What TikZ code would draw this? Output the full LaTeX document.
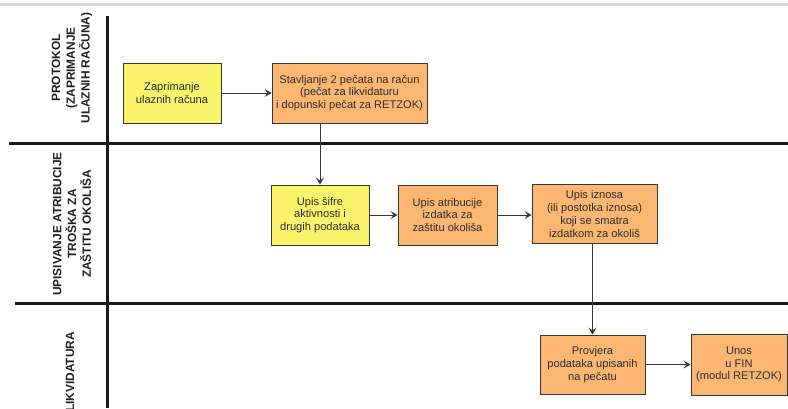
\documentclass[tikz,border=0pt]{standalone}
\usepackage{fontspec}
\setmainfont{Liberation Sans}
\usetikzlibrary{arrows.meta}
\definecolor{boxyellow}{RGB}{250,243,108}
\definecolor{boxorange}{RGB}{251,182,114}
\definecolor{edgegrey}{RGB}{55,55,55}
\definecolor{topgrey}{RGB}{216,216,216}
\definecolor{textgrey}{RGB}{45,45,45}
\begin{document}
\begin{tikzpicture}[x=1pt,y=-1pt,
  lane/.style={line width=2.4pt, black!90},
  procbox/.style={draw=edgegrey, line width=0.9pt, align=center, inner sep=1pt,
    font=\fontsize{11.1}{12.8}\selectfont, text=textgrey},
  yellowbox/.style={procbox, fill=boxyellow},
  orangebox/.style={procbox, fill=boxorange},
  flow/.style={draw=edgegrey, line width=0.9pt, -{Stealth[length=7pt,width=8pt,inset=3pt]}},
  lanelabel/.style={rotate=90, align=center, inner sep=0pt,
    font=\fontsize{11.9}{14.8}\selectfont\bfseries, text=black!88}
]
\useasboundingbox (0,0) rectangle (788,408);
\fill[white] (0,0) rectangle (788,408);
% top grey strip
\draw[topgrey, line width=3pt] (0,4) -- (788,4);
% lane lines
\draw[lane] (107.5,16) -- (107.5,408);
\draw[lane] (9,143.5) -- (788,143.5);
\draw[lane] (15,303.5) -- (788,303.5);
% lane labels
\node[lanelabel] (l1) at (72,68) {PROTOKOL\\(ZAPRIMANJE\\ULAZNIH RAČUNA)};
\node[lanelabel] (l2) at (72,224) {UPISIVANJE ATRIBUCIJE\\TROŠKA ZA\\ZAŠTITU OKOLIŠA};
\node[lanelabel] (l3) at (70,372) {LIKVIDATURA};
% boxes
\node[yellowbox, minimum width=98pt, minimum height=60pt] (zap) at (172,93) {Zaprimanje\\ulaznih računa};
\node[orangebox, minimum width=155pt, minimum height=60pt] (stav) at (349.5,93) {Stavljanje 2 pečata na račun\\(pečat za likvidaturu\\i dopunski pečat za RETZOK)};
\node[yellowbox, minimum width=98pt, minimum height=60pt] (sifra) at (320,215) {Upis šifre\\aktivnosti i\\drugih podataka};
\node[orangebox, minimum width=99pt, minimum height=60pt] (atr) at (447.5,215) {Upis atribucije\\izdatka za\\zaštitu okoliša};
\node[orangebox, minimum width=125pt, minimum height=59pt] (izn) at (594.5,214) {Upis iznosa\\(ili postotka iznosa)\\koji se smatra\\izdatkom za okoliš};
\node[orangebox, minimum width=105pt, minimum height=59pt] (prov) at (592.5,364.5) {Provjera\\podataka upisanih\\na pečatu};
\node[orangebox, minimum width=96pt, minimum height=61pt] (unos) at (739,364.5) {Unos\\u FIN\\(modul RETZOK)};
% connectors
\draw[flow] (zap) -- (stav);
\draw[flow] (stav.south -| sifra.north) -- (sifra.north);
\draw[flow] (sifra) -- (atr);
\draw[flow] (atr.east) -- (atr.east -| izn.west);
\draw[flow] (izn.south -| prov.north) -- (prov.north);
\draw[flow] (prov) -- (unos);
\end{tikzpicture}
\end{document}
